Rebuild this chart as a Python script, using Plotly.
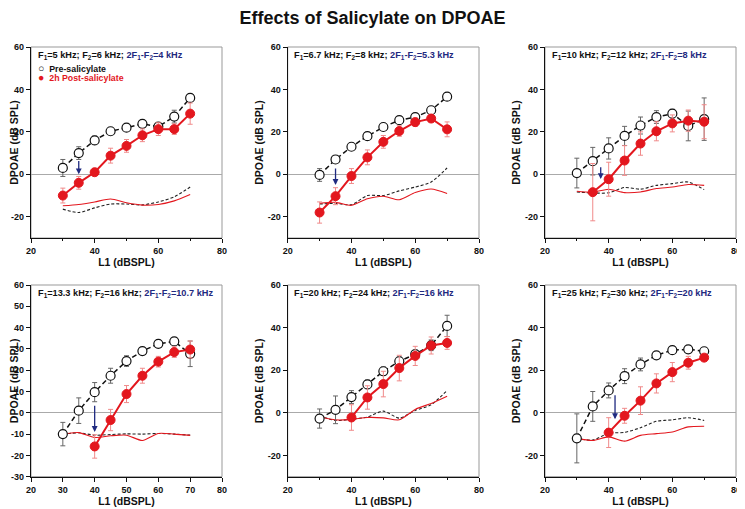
import plotly.graph_objects as go

L1 = [30, 35, 40, 45, 50, 55, 60, 65, 70]

F1_LABELS = ["5", "6.7", "10", "13.3", "20", "25"]
F2_LABELS = ["6", "8", "12", "16", "24", "30"]
DP_LABELS = ["4", "5.3", "8", "10.7", "16", "20"]

# pre-salicylate DPOAE mean / sd, one list per panel
PRE_MEAN = [
    [3, 10, 16, 20.3, 22, 23.8, 22.5, 27.2, 36],
    [-0.3, 7, 13, 18, 22.3, 25.5, 27, 30.2, 36.6],
    [0.6, 6.2, 12.2, 18.1, 23, 27, 28.6, 22.8, 26],
    [-10, 1, 9.7, 17.4, 24.3, 29, 32.4, 33.5, 27.7],
    [-2.7, 1.4, 7.4, 13.3, 19.5, 24.2, 27.5, 31.7, 40.8],
    [-12, 3, 10.5, 17.2, 22.7, 27, 29.4, 29.8, 28.9],
]
PRE_ERR = [
    [4, 3, 2, 1, 1, 1, 1, 3, 1],
    [3, 1, 1, 1, 1, 1, 1, 1, 1],
    [7, 6.5, 5, 4.5, 4, 3, 2, 7, 10],
    [5.5, 6, 4.5, 3.5, 2.5, 1.5, 1, 1, 6],
    [4.5, 6.5, 3, 2, 2, 2, 2, 2.5, 5],
    [11.5, 7, 3.5, 3.5, 3, 1.5, 1, 1, 1],
]

# 2h post-salicylate DPOAE mean / sd
POST_MEAN = [
    [-10, -4, 1, 8.8, 13.4, 18.4, 21.3, 21.3, 28.6],
    [-18, -10.3, -0.8, 8, 15.3, 20.4, 24.6, 26.3, 21.2],
    [None, -8.4, -2.3, 6.5, 14.5, 20.3, 24, 25.3, 24.8],
    [None, None, -15.8, -3.4, 8.8, 17.4, 24, 28.5, 29.7],
    [None, None, -2.2, 7.2, 13.5, 21, 26.7, 31.6, 32.8],
    [None, None, -9.3, -1.4, 5.7, 13.8, 19.1, 23.5, 25.9],
]
POST_ERR = [
    [3.5, 3, 1.5, 3.5, 3, 3, 3, 2.5, 5],
    [5, 4, 3.5, 3.5, 3, 2.5, 2, 1.5, 3.5],
    [0, 13.5, 8, 7, 5.5, 4.5, 4, 5, 8],
    [0, 0, 5.5, 5, 4, 3.5, 2.5, 2.5, 4],
    [0, 0, 6, 5.5, 6, 6, 4.5, 4, 3],
    [0, 0, 7, 3.5, 6.5, 4.5, 4.5, 3, 1.5],
]

# noise floors
NOISE_PRE = [
    [-16.4, -18, -15.8, -14, -14, -14.4, -13, -10.6, -6],
    [-14, -13.7, -14.3, -10, -10, -7.8, -6, -3.6, 3],
    [-8.3, -8.8, -8.7, -6.2, -7, -5.2, -4.4, -3.6, -7.2],
    [-10, -9.4, -10.5, -10.2, -9.9, -10, -9.7, -10, -10.5],
    [-1.4, -3.6, -3, -2, 0.8, -2.5, 1.1, 3.8, 10.5],
    [-12, -12.8, -9.6, -9.2, -7, -4, -3.3, -2.3, -3.6],
]
NOISE_POST = [
    [-14.8, -14.2, -13, -11.6, -13.4, -14.5, -14.2, -12.5, -9.5],
    [-13.7, -13.2, -14.6, -11.5, -10.3, -12, -8.6, -6.9, -9],
    [-8, -8.4, -7, -8.6, -8.3, -6.7, -6, -4.8, -5.2],
    [-10, -9.3, -11.6, -10.8, -10.5, -13, -9.7, -10, -10.6],
    [-2, -3.3, -3.1, -2.2, -2.4, -3.3, 1.6, 4.4, 7.8],
    [-12, -13, -11.3, -13.3, -10.6, -9.8, -9, -6.6, -6.3],
]

# threshold-shift arrows (L1, from, to)
ARROW_X = [35, 35, 37.5, 40, None, 42]
ARROW_FROM = [7, 3.5, 4, 4, None, 9]
ARROW_TO = [0, -5, -2.2, -9, None, -3]

FONT = "Liberation Sans, Arial, sans-serif"
RED = "#e3171e"
NAVY = "#1f2a80"

# page body has an 8px margin; size the figure so it sits inside the window
OFF = 8
W = 745 - OFF
H = 509 - OFF


def px_x(sx):
    return (sx - OFF) / W


def px_y(sy):
    return 1 - (sy - OFF) / H


X_DOMAINS = [(px_x(31), px_x(222)), (px_x(287.7), px_x(479)), (px_x(545), px_x(736))]
Y_DOMAINS = [(px_y(238), px_y(47)), (px_y(476.7), px_y(285))]

fig = go.Figure()

for i in range(6):
    n = i + 1
    xa = "x" if n == 1 else "x%d" % n
    ya = "y" if n == 1 else "y%d" % n

    fig.add_trace(go.Scatter(
        x=L1, y=NOISE_PRE[i], xaxis=xa, yaxis=ya, mode="lines",
        line=dict(color="#222", width=1.1, dash="3px,2px", shape="spline", smoothing=0.7),
        showlegend=False))
    fig.add_trace(go.Scatter(
        x=L1, y=NOISE_POST[i], xaxis=xa, yaxis=ya, mode="lines",
        line=dict(color=RED, width=1.1, shape="spline", smoothing=0.7),
        showlegend=False))
    fig.add_trace(go.Scatter(
        x=L1, y=PRE_MEAN[i], xaxis=xa, yaxis=ya, mode="lines+markers",
        line=dict(color="#111", width=1.5, dash="5px,3px"),
        marker=dict(symbol="circle", size=9, color="white", line=dict(color="#111", width=1.2)),
        error_y=dict(type="data", array=PRE_ERR[i], color="#666", thickness=1, width=2.5),
        showlegend=False))
    fig.add_trace(go.Scatter(
        x=L1, y=POST_MEAN[i], xaxis=xa, yaxis=ya, mode="lines+markers",
        line=dict(color=RED, width=2),
        marker=dict(symbol="circle", size=9, color=RED, line=dict(color=RED, width=1)),
        error_y=dict(type="data", array=POST_ERR[i], color="#f08a8a", thickness=1, width=2.5),
        showlegend=False, connectgaps=False))

    row = i // 3
    col = i % 3
    dense = (i == 3)
    if dense:
        yvals = list(range(-30, 61, 10))
    else:
        yvals = list(range(-20, 61, 20))
    xvals = list(range(20, 81, 10)) if dense else [20, 40, 60, 80]

    axis_font = dict(family=FONT, size=9, color="#111", weight="bold")
    xaxis = dict(
        domain=list(X_DOMAINS[col]), anchor=ya, range=[20, 80],
        tickvals=xvals, ticktext=[str(v) for v in xvals],
        ticks="outside", ticklen=4, tickwidth=1, tickcolor="#111",
        showline=True, linecolor="#111", linewidth=1.3,
        showgrid=False, zeroline=False, tickfont=axis_font,
        title=dict(text="L1 (dBSPL)", font=dict(family=FONT, size=10.5, color="#111", weight="bold"), standoff=3),
        automargin=False,
    )
    if not dense:
        xaxis["minor"] = dict(tickvals=[30, 50, 70], ticks="outside", ticklen=2, tickcolor="#111")
    yaxis = dict(
        domain=list(Y_DOMAINS[row]), anchor=xa, range=[-30, 60],
        tickvals=yvals, ticktext=[str(v) for v in yvals],
        ticks="outside", ticklen=4, tickwidth=1, tickcolor="#111",
        showline=True, linecolor="#111", linewidth=1.3,
        showgrid=False, zeroline=True, zerolinecolor="#aaaaaa", zerolinewidth=1,
        tickfont=axis_font,
        title=dict(text="DPOAE (dB SPL)", font=dict(family=FONT, size=10.5, color="#111", weight="bold"), standoff=2),
        automargin=False,
    )
    fig.update_layout({("xaxis" if n == 1 else "xaxis%d" % n): xaxis,
                       ("yaxis" if n == 1 else "yaxis%d" % n): yaxis})

    # light box around the plot area
    fig.add_shape(type="rect", xref=xa + " domain", yref=ya + " domain",
                  x0=0, x1=1, y0=0, y1=1, line=dict(color="#999", width=1), layer="below")

    header = ("<b>F<sub>1</sub>=%s kHz; F<sub>2</sub>=%s kHz; "
              "<span style='color:%s'>2F<sub>1</sub>-F<sub>2</sub>=%s kHz</span></b>"
              % (F1_LABELS[i], F2_LABELS[i], NAVY, DP_LABELS[i]))
    fig.add_annotation(text=header, xref=xa + " domain", yref=ya + " domain",
                       x=0.025, y=0.958, xanchor="left", yanchor="middle", showarrow=False,
                       font=dict(family=FONT, size=9.2, color="#111"))

    if ARROW_X[i] is not None:
        fig.add_annotation(x=ARROW_X[i], y=ARROW_TO[i], ax=ARROW_X[i], ay=ARROW_FROM[i],
                           xref=xa, yref=ya, axref=xa, ayref=ya, text="", showarrow=True,
                           arrowhead=2, arrowsize=0.9, arrowwidth=1.3, arrowcolor=NAVY)

# legend inside the first panel
fig.add_annotation(text="<span style='font-size:10.5px'>\u25cb</span>  <b>Pre-salicylate</b>",
                   xref="x domain", yref="y domain",
                   x=0.025, y=0.891, xanchor="left", yanchor="middle", showarrow=False,
                   font=dict(family=FONT, size=8.8, color="#111"))
fig.add_annotation(text="<span style='font-size:10.5px'>\u25cf</span>  <b>2h Post-salicylate</b>",
                   xref="x domain", yref="y domain",
                   x=0.025, y=0.844, xanchor="left", yanchor="middle", showarrow=False,
                   font=dict(family=FONT, size=8.8, color=RED))

fig.update_layout(
    width=W, height=H,
    margin=dict(l=0, r=0, t=0, b=0),
    paper_bgcolor="white", plot_bgcolor="white",
    title=dict(text="<b>Effects of Salicylate on DPOAE</b>", x=px_x(372.5), xanchor="center",
               y=1, yanchor="top", pad=dict(t=3),
               font=dict(family=FONT, size=18, color="#111")),
    font=dict(family=FONT),
)

fig.write_html("out.html")
